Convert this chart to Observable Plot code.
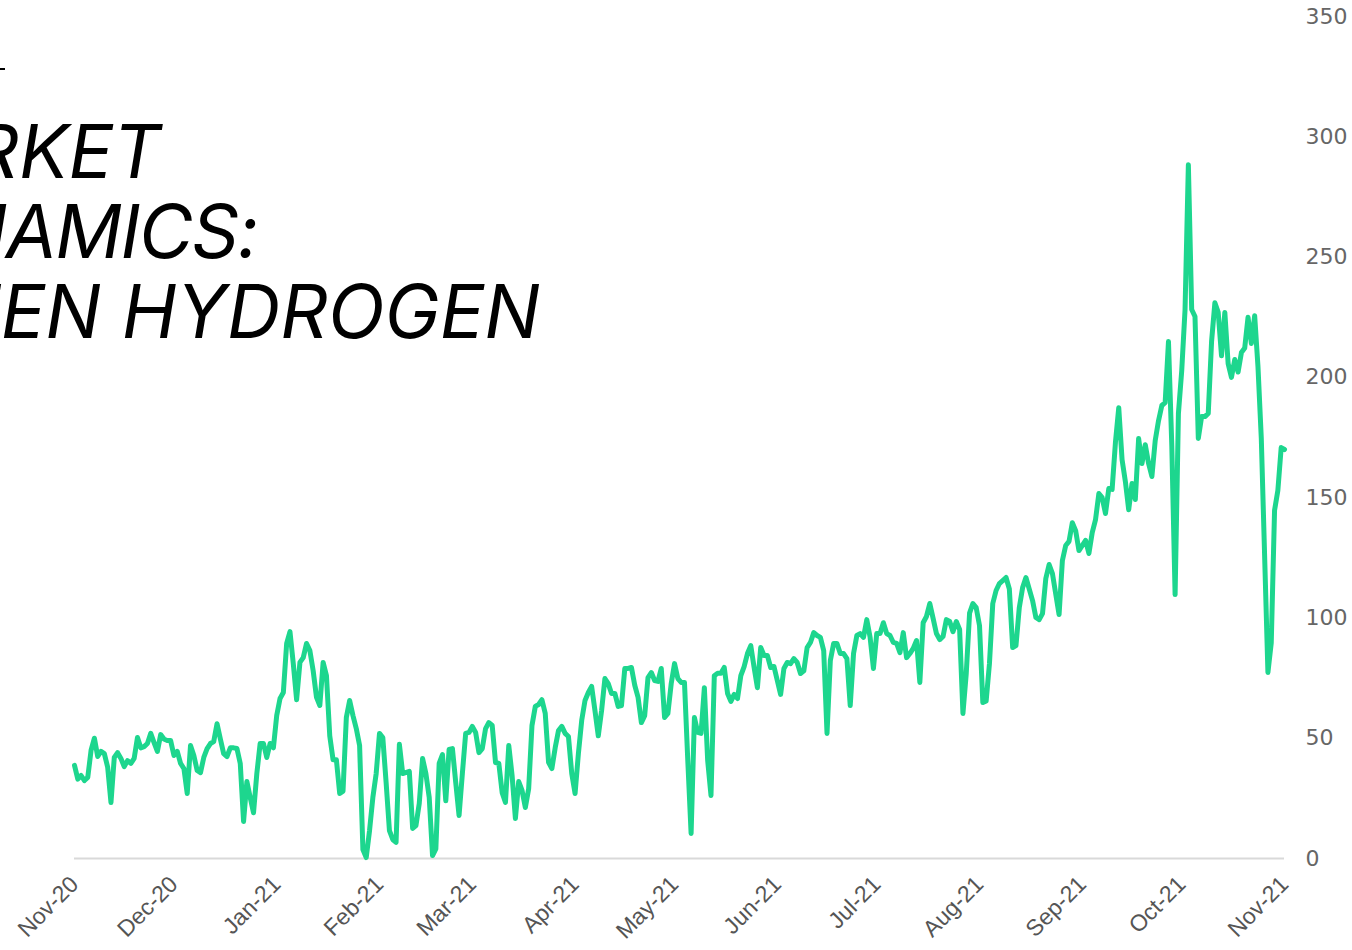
<!DOCTYPE html>
<html><head><meta charset="utf-8">
<script src="https://cdn.jsdelivr.net/npm/d3@7"></script>
<script src="https://cdn.jsdelivr.net/npm/@observablehq/plot@0.6"></script>
<style>
html,body{margin:0;padding:0;background:#fff;overflow:hidden;width:1352px;height:950px;}
#wrap{position:relative;width:1352px;height:950px;overflow:hidden;}
#chart{position:absolute;left:0;top:0;}
#title{position:absolute;left:-110px;top:111px;margin:0;font-family:Inter,"Noto Sans",sans-serif;font-style:italic;font-weight:400;font-size:74px;line-height:80px;color:#000;white-space:nowrap;}
#title span{display:block;height:80px;overflow:visible;}
#mark{position:absolute;left:0;top:68px;width:5px;height:2px;background:#000;}
</style></head>
<body><div id="wrap"><div id="chart"></div>
<div id="mark"></div>
<h1 id="title"><span>MARKET</span><span id="l2">DYNAMICS:</span><span id="l3">GREEN HYDROGEN</span></h1></div>
<script>
const startDate = "2020-11-01";
const monthLabels = ["Nov-20","Dec-20","Jan-21","Feb-21","Mar-21","Apr-21","May-21","Jun-21","Jul-21","Aug-21","Sep-21","Oct-21","Nov-21"];
const yTicks = [0,50,100,150,200,250,300,350];
const dayOffsets = [0,1,2,3,4,5,6,7,8,9,10,11,12,13,14,15,16,17,18,19,20,21,22,23,24,25,26,27,28,29,30,31,32,33,34,35,36,37,38,39,40,41,42,43,44,45,46,47,48,49,50,51,52,53,54,55,56,57,58,59,60,61,62,63,64,65,66,67,68,69,70,71,72,73,74,75,76,77,78,79,80,81,82,83,84,85,86,87,88,89,90,91,92,93,94,95,96,97,98,99,101,102,103,104,105,106,107,108,109,110,111,112,113,114,115,116,117,118,119,120,121,122,123,124,125,126,127,128,129,130,131,132,133,134,135,136,137,138,139,140,141,142,143,144,145,146,147,148,149,150,151,152,153,154,155,156,157,158,159,160,161,162,163,164,165,166,167,168,169,170,171,172,173,174,175,176,177,178,179,180,181,182,183,184,185,186,187,188,189,190,191,192,193,194,195,196,197,198,199,200,201,202,203,204,205,206,207,208,209,210,211,212,213,214,215,216,217,218,219,220,221,222,223,224,225,226,227,228,229,230,231,232,233,234,235,236,237,238,239,240,241,242,243,244,245,246,247,248,249,250,251,252,253,254,255,256,257,258,259,260,261,262,263,264,265,266,267,268,269,270,271,272,273,274,275,276,277,278,279,281,282,283,284,285,286,287,289,290,291,292,293,294,295,297,298,299,300,301,302,303,305,306,307,308,309,310,311,312,313,314,315,316,317,318,319,320,321,322,323,324,325,326,327,328,329,330,331,332,333,334,335,336,337,338,339,340,341,342,343,344,345,346,347,348,349,350,351,352,353,354,355,356,357,358,360,361,362,363,364,365];
const prices = [38.7,33,34.5,32.4,33.7,45,50,42.4,44.5,43.6,38,23.3,42,44,41.6,38.2,40.7,39.5,41.6,50.3,46,46.5,47.8,52,48.2,44.5,51.5,49.7,49,49,42.8,44.5,39.5,37.4,27,47,42.8,36.6,35.7,42,45.7,47.8,48.6,56,49.7,43.6,42.4,46,46,45.7,39.5,15.4,32,25.4,19,35.3,47.8,47.8,42,47.8,46,59.4,66.5,69,89.4,94.3,81,66,81.5,83.5,89.4,86.4,78,67,63.6,81.5,76,51,41,41,27,28,58.6,65.7,59.4,54,47,3.7,0.4,11.6,25.4,35.3,52,50.3,31.6,11.6,7.9,6.7,47.5,35.3,36.2,12.5,13.7,22.9,41.6,35.3,25.4,1.2,4,39.5,43.2,24,45.3,45.7,31.6,17.9,35.3,52,52.4,54.9,52.4,44,45.7,54,56.5,55.3,39.9,39.5,27.4,23.3,47,34.5,16.6,32,28.3,21.2,29,55.3,63.2,64,66,60.3,40,37.4,46,53.2,54.9,52,50.7,35.3,27,43.6,57.4,65.7,69,71.5,61.5,51,61.5,74.8,72.7,68.6,68.6,63.2,63.6,79,79,79.4,72,67,56.5,59.4,75.2,77.3,74,73.6,79,58.6,60.3,72.7,81,74.8,73.2,73.2,40.7,10.4,58.6,52.4,52,71,40.7,26.2,76,77,77,79.4,68.6,65.3,68.2,66.5,76,79.8,85.2,88.5,79.4,71,87.7,84.4,84.4,79.4,79.8,74,68.2,79,81.5,81,83.1,81.5,76.9,78,87.7,89.8,93.9,92.7,91.9,86.4,52,82.3,89.4,89.4,85.2,85.2,83.1,63.6,85.2,92.7,93.5,91.9,99.3,91.9,79,93.5,93.5,98,93.5,92.7,89.8,89.4,85.6,93.9,83.5,85.2,87.3,90.6,73.2,98,100.6,106,99.8,93.5,91,92.3,99.3,98.5,94.3,98.5,95.2,60.3,76.9,102,106,104.3,96.8,64.8,65.5,81,106,111.4,114.3,116.8,112,87.7,88.5,104.3,112.6,116.8,107.2,100.2,99.3,101.8,116.4,122.2,118.4,101.4,123.9,130.1,131.8,139.6,136.3,128,132.2,126.8,135.5,140.9,151.7,150,143.4,153.8,153.4,172.9,187.4,165.8,156.7,145,155.9,149.2,174.6,164.2,172,164.2,158.8,173.7,182,188.3,189.5,214.9,171.7,109.7,185,202.8,228.2,288.4,228.2,225.3,174.6,183.7,183.7,185,214.9,231,227,209,227,205.7,200,207.4,202.2,210.3,212.2,225,214.1,225.6,204.4,174.6,77.3,89.6,144.7,153,170.8,170];

const parseMonth = d3.utcParse("%b-%y");
const monthTicks = monthLabels.map(parseMonth);
const start = new Date(startDate + "T00:00:00Z");
const data = dayOffsets.map((d, i) => ({date: d3.utcDay.offset(start, d), value: prices[i]}));

const chart = Plot.plot({
  width: 1352, height: 950,
  marginTop: 16, marginBottom: 92, marginLeft: 74, marginRight: 68,
  style: {background: "transparent", fontFamily: "'Liberation Sans', Arial, sans-serif"},
  x: {type: "utc", domain: [monthTicks[0], monthTicks[monthTicks.length - 1]]},
  y: {domain: [0, 350]},
  marks: [
    Plot.ruleY([0], {stroke: "#d9d9d9", strokeWidth: 2}),
    Plot.line(data, {x: "date", y: "value", stroke: "#1dd68e", strokeWidth: 5, strokeLinejoin: "round", strokeLinecap: "round"}),
    Plot.axisX({ticks: monthTicks, tickFormat: (d, i) => monthLabels[i], tickRotate: -45, tickSize: 0, tickPadding: 22, fontSize: 23, fill: "#555", label: null, fontFamily: "'Liberation Sans', Arial, sans-serif"}),
    Plot.axisY({anchor: "right", ticks: yTicks, tickSize: 0, tickPadding: 21, fontSize: 22, fill: "#666", label: null, fontFamily: "'DejaVu Sans', sans-serif"})
  ]
});
document.getElementById("chart").appendChild(chart);

// align the title so that the last line ends where the reference shows it
const title = document.getElementById("title");
const l3 = document.getElementById("l3");
const range = document.createRange();
range.selectNodeContents(l3);
const w = range.getBoundingClientRect().width;
title.style.left = (540 - w) + "px";
// line 2 is slightly tighter in the reference
document.getElementById("l2").style.letterSpacing = "-1.5px";
</script>
</body></html>
